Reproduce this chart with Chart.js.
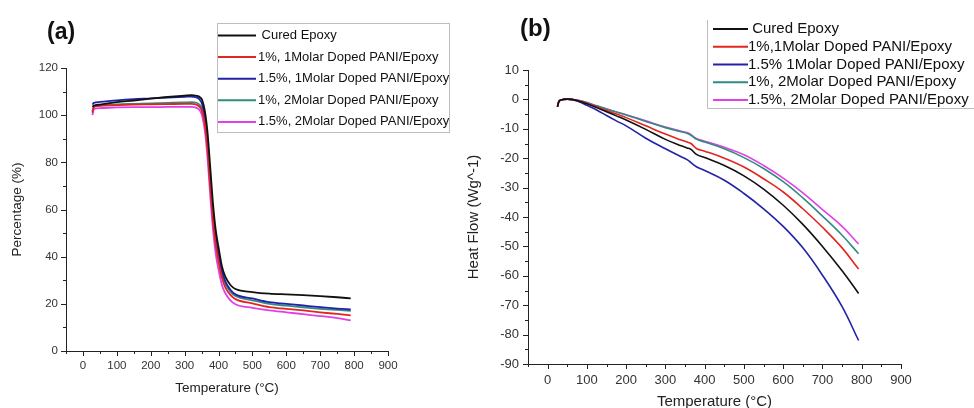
<!DOCTYPE html>
<html>
<head>
<meta charset="utf-8">
<script src="https://cdn.jsdelivr.net/npm/chart.js@4.4.1/dist/chart.umd.min.js"></script>
<style>
  body { margin: 0; background: #fff; }
  #wrap { position: relative; width: 974px; height: 408px; overflow: hidden; font-family: "Liberation Sans", Arial, sans-serif; }
  canvas { position: absolute; top: 0; }
  .tag { position: absolute; font-weight: bold; color: #111; }
</style>
</head>
<body>
<div id="wrap">
  <canvas id="tga" width="460" height="408" style="left:0"></canvas>
  <canvas id="dsc" width="514" height="408" style="left:460px"></canvas>
  <div class="tag" style="left:47px;top:18px;font-size:23px">(a)</div>
  <div class="tag" style="left:520px;top:14px;font-size:24px">(b)</div>
</div>
<script>
// series labels and colours
const labelsA = [' Cured Epoxy', '1%, 1Molar Doped PANI/Epoxy', '1.5%, 1Molar Doped PANI/Epoxy', '1%, 2Molar Doped PANI/Epoxy', '1.5%, 2Molar Doped PANI/Epoxy'];
const labelsB = [' Cured Epoxy', '1%,1Molar Doped PANI/Epoxy', '1.5% 1Molar Doped PANI/Epoxy', '1%, 2Molar Doped PANI/Epoxy', '1.5%, 2Molar Doped PANI/Epoxy'];
const colors = ['#111111', '#e3241f', '#2222a8', '#2f8c80', '#e040e4'];

// (a) TGA - temperature (°C) vs percentage
const tempA = [28, 32, 50, 100, 150, 200, 250, 300, 320, 335, 345, 352, 360, 368, 376, 384, 392, 400, 410, 420, 435, 450, 500, 550, 600, 650, 700, 750, 790];
const curedA = [103.5, 104, 104.5, 105.5, 106.2, 107, 107.7, 108.3, 108.5, 108.2, 107.6, 106.3, 101.5, 92, 77, 62, 51, 44, 36, 31.5, 28, 26.3, 25, 24.3, 24, 23.7, 23.3, 22.8, 22.3];
const red1A = [101, 103.5, 104, 104.3, 104.5, 104.6, 104.7, 104.8, 104.8, 104.4, 103.4, 101.5, 96, 85, 69, 55, 45, 38, 31, 27, 23.8, 22, 20.2, 18.6, 17.9, 17.2, 16.4, 15.7, 15.1];
const blue1A = [104.5, 105.2, 105.6, 106.3, 106.8, 107.1, 107.5, 107.8, 107.9, 107.5, 106.5, 104.5, 98.5, 88, 72, 58, 48, 41, 34, 29.5, 26, 24, 22.3, 20.7, 20, 19.3, 18.6, 18, 17.6];
const teal2A = [101.5, 103.8, 104.2, 104.6, 104.8, 105, 105.2, 105.4, 105.5, 105.2, 104.3, 102.5, 97, 86.5, 70.5, 56.5, 46.5, 39.5, 32.5, 28.5, 25.2, 23.3, 21.5, 20, 19.2, 18.5, 17.9, 17.4, 17];
const pink2A = [100, 102.5, 103, 103.3, 103.4, 103.4, 103.5, 103.5, 103.5, 103.1, 102, 99.5, 93, 81, 65, 51, 41, 34.5, 28, 24.5, 21.5, 19.8, 18.3, 17.2, 16.4, 15.6, 14.8, 13.9, 13];

// (b) DSC - temperature (°C) vs heat flow
const tempB = [25, 30, 40, 60, 80, 100, 125, 150, 175, 200, 250, 300, 340, 355, 365, 380, 400, 450, 500, 550, 600, 650, 700, 750, 792];
const curedB = [-2.5, -0.5, 0, 0, -0.6, -1.5, -2.8, -4.2, -5.6, -7, -10.2, -13.6, -15.8, -16.5, -17, -18.8, -19.8, -22.5, -26, -30.5, -36, -42.5, -50, -58.3, -66];
const red1B = [-2.5, -0.5, 0, 0, -0.5, -1.3, -2.5, -3.8, -5, -6.2, -9, -11.8, -13.8, -14.5, -15, -16.8, -17.6, -20, -23, -27, -31.5, -37.2, -43.5, -50.5, -57.7];
const blue1B = [-2.5, -0.5, 0, 0, -0.8, -2, -3.6, -5.5, -7.3, -9, -13.2, -16.8, -19.5, -20.5, -21.5, -23, -24.2, -27.5, -32, -37.2, -43.2, -50.5, -59.8, -70.5, -82];
const teal2B = [-2.5, -0.5, 0, 0, -0.4, -1.1, -2.2, -3.3, -4.3, -5.3, -7.5, -9.6, -11, -11.5, -12.2, -13.6, -14.5, -16.8, -19.8, -23.5, -28, -33.5, -39.7, -46.2, -52.5];
const pink2B = [-2.5, -0.5, 0, 0, -0.4, -1.1, -2.2, -3.3, -4.3, -5.2, -7.3, -9.4, -10.8, -11.3, -12, -13.4, -14.2, -16.3, -18.8, -22.5, -26.8, -31.8, -37.5, -43.2, -49.2];

const FONT = '"Liberation Sans", Arial, sans-serif';
const AXIS = '#222';

// pair x and y arrays into points
function pts(xs, ys) {
    return xs.map((x, i) => ({x: x, y: ys[i]}));
}

function makeSets(labels, xs, series, width, smooth) {
    return series.map((ys, i) => ({
        label: labels[i],
        data: pts(xs, ys),
        borderColor: colors[i],
        borderWidth: width,
        pointRadius: 0,
        tension: smooth,
        cubicInterpolationMode: smooth ? 'default' : 'monotone',
        fill: false
    }));
}

// outward tick marks, long ones where there is a label
const tickMarks = {
    id: 'tickMarks',
    afterDraw(chart) {
        const ctx = chart.ctx;
        ctx.save();
        ctx.strokeStyle = AXIS;
        ctx.lineWidth = 1;
        ['x', 'y'].forEach(id => {
            const s = chart.scales[id];
            s.ticks.forEach(t => {
                const len = t.label === '' ? 3 : 5;
                const p = Math.round(s.getPixelForValue(t.value)) + 0.5;
                ctx.beginPath();
                if (id === 'x') {
                    ctx.moveTo(p, s.top);
                    ctx.lineTo(p, s.top + len);
                } else {
                    ctx.moveTo(s.right, p);
                    ctx.lineTo(s.right - len, p);
                }
                ctx.stroke();
            });
        });
        ctx.restore();
    }
};

// legend drawn at a fixed place, the way the original figure has it
const placedLegend = {
    id: 'placedLegend',
    afterDraw(chart, args, o) {
        const ctx = chart.ctx;
        ctx.save();
        ctx.strokeStyle = '#bdbdbd';
        ctx.lineWidth = 1;
        if (o.box) {
            ctx.strokeRect(o.box[0] + 0.5, o.box[1] + 0.5, o.box[2], o.box[3]);
        }
        if (o.edge) {
            ctx.beginPath();
            ctx.moveTo(o.edge[0] + 0.5, o.edge[1]);
            ctx.lineTo(o.edge[0] + 0.5, o.edge[2] + 0.5);
            ctx.lineTo(chart.width, o.edge[2] + 0.5);
            ctx.stroke();
        }
        ctx.font = o.size + 'px ' + FONT;
        ctx.textBaseline = 'middle';
        chart.data.datasets.forEach((ds, i) => {
            const y = o.y + i * o.gap;
            ctx.strokeStyle = ds.borderColor;
            ctx.lineWidth = 2;
            ctx.beginPath();
            ctx.moveTo(o.x, y);
            ctx.lineTo(o.x + o.len, y);
            ctx.stroke();
            ctx.fillStyle = '#111';
            ctx.fillText(ds.label, o.x + o.len + o.pad, y);
        });
        ctx.restore();
    }
};

function axes(cfg) {
    return {
        x: {
            type: 'linear',
            min: cfg.xmin, max: cfg.xmax,
            afterFit: s => { s.height = cfg.xh; },
            grid: {display: false, drawTicks: false},
            border: {display: true, color: AXIS, width: 1},
            ticks: {
                stepSize: 50, autoSkip: false, maxRotation: 0,
                padding: cfg.tpad, color: '#333',
                font: {family: FONT, size: cfg.tick},
                callback: v => (v >= 0 && v % 100 === 0) ? v : ''
            },
            title: {
                display: true, text: 'Temperature (°C)', color: '#222',
                font: {family: FONT, size: cfg.title},
                padding: {top: 0, bottom: cfg.xtpad}
            }
        },
        y: {
            min: cfg.ymin, max: cfg.ymax,
            afterFit: s => { s.width = cfg.yw; },
            grid: {display: false, drawTicks: false},
            border: {display: true, color: AXIS, width: 1},
            ticks: {
                stepSize: cfg.ystep / 2, autoSkip: false,
                padding: cfg.tpad, color: '#333',
                font: {family: FONT, size: cfg.tick},
                callback: v => (v % cfg.ystep === 0) ? v : ''
            },
            title: {
                display: true, text: cfg.ytitle, color: '#222',
                font: {family: FONT, size: cfg.title},
                padding: {top: cfg.ytpad, bottom: 0}
            }
        }
    };
}

new Chart(document.getElementById('tga'), {
    type: 'line',
    data: {datasets: makeSets(labelsA, tempA, [curedA, red1A, blue1A, teal2A, pink2A], 1.8, 0)},
    options: {
        responsive: false,
        animation: false,
        layout: {padding: {left: 0, top: 68, right: 72, bottom: 0}},
        scales: axes({xmin: -50, xmax: 900, ymin: 0, ymax: 120, ystep: 20, xh: 57, yw: 66,
                      tpad: 8, tick: 11.5, title: 13.5, xtpad: 12, ytpad: 9, ytitle: 'Percentage (%)'}),
        plugins: {
            legend: {display: false},
            tooltip: {enabled: false},
            placedLegend: {box: [217, 23, 232, 109], x: 218, y: 35.5, gap: 21.6, len: 38, pad: 2, size: 13}
        }
    },
    plugins: [tickMarks, placedLegend]
});

new Chart(document.getElementById('dsc'), {
    type: 'line',
    data: {datasets: makeSets(labelsB, tempB, [curedB, red1B, blue1B, teal2B, pink2B], 1.6, 0.4)},
    options: {
        responsive: false,
        animation: false,
        layout: {padding: {left: 0, top: 70, right: 73, bottom: 0}},
        scales: axes({xmin: -50, xmax: 900, ymin: -90, ymax: 10, ystep: 10, xh: 44, yw: 68,
                      tpad: 9, tick: 13, title: 15, xtpad: -3, ytpad: 5, ytitle: 'Heat Flow (Wg^-1)'}),
        plugins: {
            legend: {display: false},
            tooltip: {enabled: false},
            placedLegend: {edge: [247, 20, 108], x: 253, y: 29, gap: 17.75, len: 35, pad: 0, size: 15}
        }
    },
    plugins: [tickMarks, placedLegend]
});
</script>
</body>
</html>
